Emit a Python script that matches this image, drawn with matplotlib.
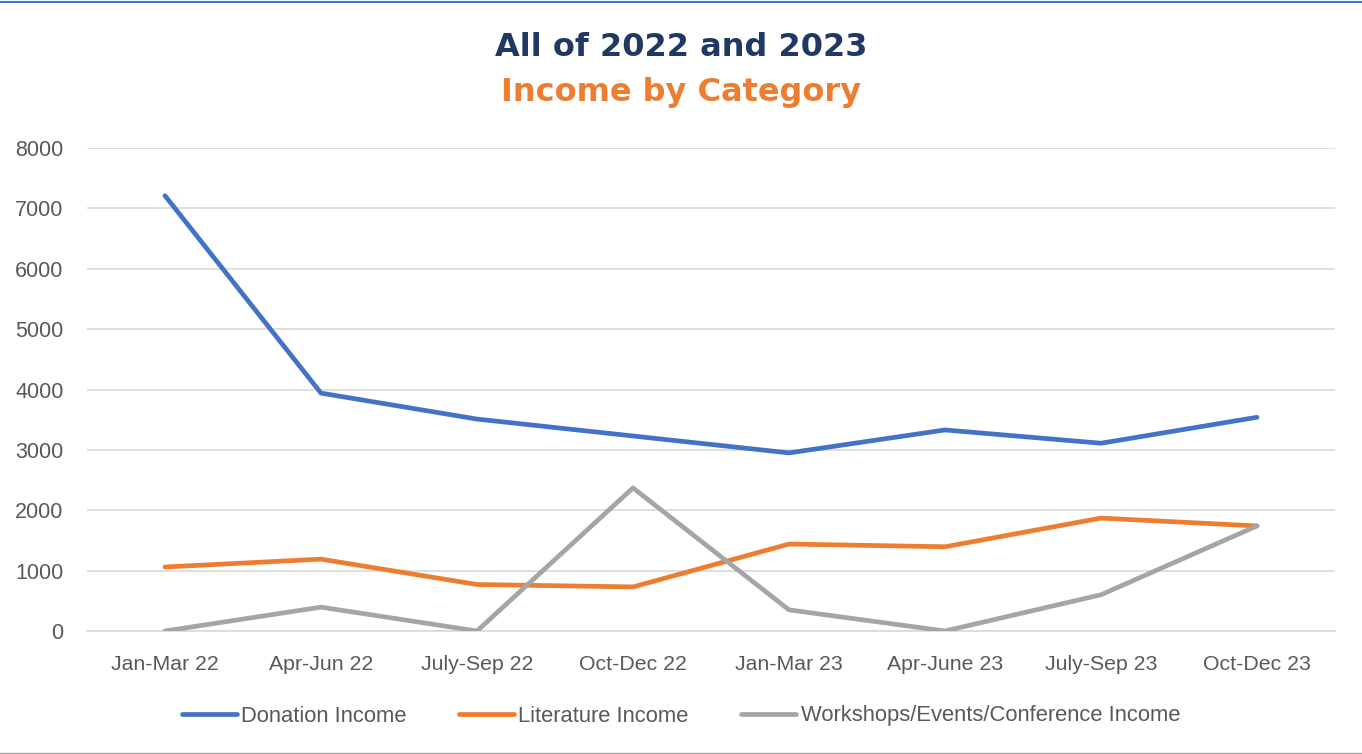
import matplotlib
matplotlib.use("Agg")
import matplotlib.pyplot as plt
import numpy as np
from matplotlib.lines import Line2D

quarters = ["Jan-Mar 22", "Apr-Jun 22", "July-Sep 22", "Oct-Dec 22",
            "Jan-Mar 23", "Apr-June 23", "July-Sep 23", "Oct-Dec 23"]
donation = [7210, 3940, 3510, 3230, 2950, 3330, 3110, 3540]
literature = [1060, 1190, 770, 730, 1440, 1395, 1870, 1740]
workshops = [0, 395, 0, 2370, 350, 0, 600, 1740]
series_names = ["Donation Income", "Literature Income",
                "Workshops/Events/Conference Income"]
yticks = [0, 1000, 2000, 3000, 4000, 5000, 6000, 7000, 8000]

colors = ["#4472C4", "#ED7D31", "#A5A5A5"]
tick_color = "#595959"
font = "Liberation Sans"

fig = plt.figure(figsize=(13.62, 7.54), dpi=100)
ax = fig.add_axes([87/1362, 123/754, 1248/1362, 483/754])

x = np.arange(len(quarters))
for vals, c, name in zip([donation, literature, workshops], colors, series_names):
    ax.plot(x, vals, color=c, linewidth=3.4, solid_capstyle="round",
            solid_joinstyle="round", label=name, zorder=3)

ax.set_xlim(-0.5, len(quarters) - 0.5)
ax.set_ylim(0, 8000)
ax.set_yticks(yticks)
ax.set_yticklabels([str(v) for v in yticks], fontsize=15.5, color=tick_color, family=font)
ax.set_xticks(x)
ax.set_xticklabels(quarters, fontsize=15.3, color=tick_color, family=font)
ax.tick_params(axis="x", length=0, pad=17)
ax.tick_params(axis="y", length=0, pad=17)
ax.grid(axis="y", color="#D9D9D9", linewidth=1.2, zorder=0)
for s in ["top", "right", "left"]:
    ax.spines[s].set_visible(False)
ax.spines["bottom"].set_color("#D9D9D9")
ax.spines["bottom"].set_linewidth(1.2)

fig.text(0.5, 1 - 48/754, "All of 2022 and 2023", ha="center", va="center",
         fontsize=23, fontweight="bold", color="#203864", family="DejaVu Sans")
fig.text(0.5, 1 - 93/754, "Income by Category", ha="center", va="center",
         fontsize=23, fontweight="bold", color="#ED7D31", family="DejaVu Sans")

handles = [Line2D([0], [0], color=c, linewidth=3.4, solid_capstyle="round") for c in colors]
leg = fig.legend(handles, series_names, loc="center", bbox_to_anchor=(0.5, 1 - 716/754),
                 ncol=3, frameon=False, handlelength=2.5, handletextpad=0.2,
                 columnspacing=2.4, prop={"family": font, "size": 15.8})
for t in leg.get_texts():
    t.set_color(tick_color)

# frame lines at top and bottom
fig.add_artist(Line2D([0, 1], [1 - 2/754, 1 - 2/754], color="#4472C4", linewidth=1.5))
fig.add_artist(Line2D([0, 1], [1/754, 1/754], color="#A5A5A5", linewidth=1))

fig.savefig("out.png", dpi=100)
